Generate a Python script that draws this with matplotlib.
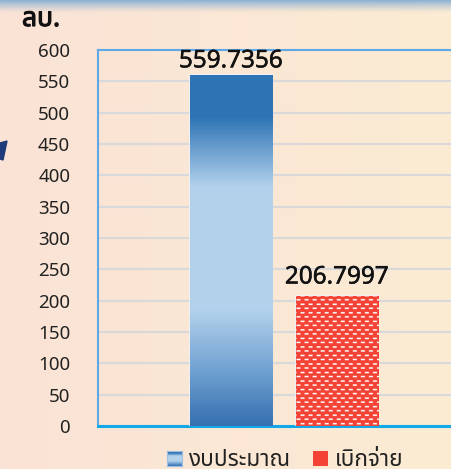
import numpy as np
import matplotlib
matplotlib.use("Agg")
import matplotlib.pyplot as plt
import matplotlib.patheffects as pe
from matplotlib import font_manager
from matplotlib.ft2font import FT2Font
from matplotlib.colors import LinearSegmentedColormap
from matplotlib.patches import Rectangle, Polygon

# data
categories = ["งบประมาณ", "เบิกจ่าย"]
values = [559.7356, 206.7997]
value_labels = ["559.7356", "206.7997"]
yticks = list(range(0, 601, 50))
unit_label = "ลบ."


def thai_font():
    # pick an installed font that can draw Thai
    prefs = ["Noto Sans Thai", "Noto Sans Thai UI", "Loma", "Garuda", "Tlwg Typo",
             "Sarabun", "Noto Sans", "DejaVu Sans"]
    found = {}
    for f in font_manager.fontManager.ttflist:
        try:
            cmap = FT2Font(f.fname).get_charmap()
        except Exception:
            continue
        if ord("ง") in cmap and ord("ณ") in cmap:
            found.setdefault(f.name, f.fname)
    for p in prefs:
        if p in found:
            return p
    if found:
        return sorted(found)[0]
    return "DejaVu Sans"


fam = thai_font()
plt.rcParams["font.family"] = [fam, "DejaVu Sans"]

W, H = 452, 469
fig = plt.figure(figsize=(W / 100, H / 100), dpi=100)

# page background
bg = fig.add_axes([0, 0, 1, 1], zorder=-10)
gx = np.linspace(0, 1, 200)
gy = np.linspace(0, 1, 200)
X, Y = np.meshgrid(gx, gy)
c_left = np.array([250, 227, 214]) / 255
c_right = np.array([252, 236, 211]) / 255
img = c_left[None, None, :] * (1 - X[..., None]) + c_right[None, None, :] * X[..., None]
# blue shadow at the very top
top = np.clip((Y - 0.972) / 0.028, 0, 1)[..., None] ** 1.3
img = img * (1 - top) + np.array([140, 178, 212])[None, None, :] / 255 * top
bg.imshow(img, extent=[0, 1, 0, 1], origin="lower", aspect="auto")
blob = np.array([[0, 143], [7, 141], [3, 160], [0, 159]], dtype=float)
bg.add_patch(Polygon(np.c_[blob[:, 0] / W, 1 - blob[:, 1] / H], closed=True,
                     color="#1F3A7A"))
bg.set_xlim(0, 1)
bg.set_ylim(0, 1)
bg.axis("off")

ax = fig.add_axes([98 / W, 43 / H, 377 / W, 376 / H])
ax.set_facecolor("none")

x = np.arange(len(categories))
width = 0.78
bars = ax.bar(x, values, width=width, color=["#2E74B5", "#F44336"],
              edgecolor="#EDF3FA", linewidth=1.2, zorder=3)

# gradient fill for the budget bar
grad = LinearSegmentedColormap.from_list(
    "g", [(0.0, "#2E74B5"), (0.12, "#2F75B6"), (0.32, "#B4D2EC"),
          (0.67, "#B3D1EB"), (0.85, "#6E9FD0"), (1.0, "#3570B0")])
b0 = bars[0]
im = ax.imshow(np.linspace(0, 1, 256)[:, None], cmap=grad, aspect="auto",
               extent=[b0.get_x(), b0.get_x() + b0.get_width(), 0, b0.get_height()],
               origin="upper", zorder=3.5)
im.set_clip_path(b0)

# brick texture for the disbursed bar (drawn at 2x resolution)
b1 = bars[1]
red = np.array([244, 67, 54]) / 255
tile = np.ones((17, 16, 3)) * red
tile[2:5, 1:9] = 1.0
tile[11:14, 9:16] = 1.0
tile[11:14, 0] = 1.0
hpx = int(round(b1.get_height() * 376 / 600 * 2))
wpx = int(round(b1.get_width() * 106 * 2))
tex = np.tile(tile, (hpx // 17 + 1, wpx // 16 + 1, 1))
tex = tex[tex.shape[0] - hpx:, :wpx]
im2 = ax.imshow(tex, aspect="auto", interpolation="antialiased",
                extent=[b1.get_x(), b1.get_x() + b1.get_width(), 0, b1.get_height()],
                origin="upper", zorder=3.5)
im2.set_clip_path(b1)

medium = [pe.withStroke(linewidth=0.35, foreground="#111111")]
label_gap = [3, 11]
for xi, v, lab, g in zip(x, values, value_labels, label_gap):
    ax.text(xi, v + g, lab, ha="center", va="bottom", fontsize=17.5,
            color="#111111", zorder=5, path_effects=medium)

ax.set_xlim(-1.255, 2.302)
ax.set_ylim(0, 600)
ax.set_yticks(yticks)
ax.set_xticks([])
ax.tick_params(axis="y", length=0, pad=20, labelsize=13.5, labelcolor="#222222")
ax.yaxis.grid(True, color="#D9D9D9", linewidth=1.6, zorder=0)
ax.set_axisbelow(True)
for s in ["left", "top"]:
    ax.spines[s].set_color("#5FA8E8")
    ax.spines[s].set_linewidth(1.5)
ax.spines["right"].set_visible(False)
ax.spines["bottom"].set_color("#13A8E8")
ax.spines["bottom"].set_linewidth(2.2)

fig.text(22 / W, 1 - 26 / H, unit_label, fontsize=19, color="#111111",
         path_effects=[pe.withStroke(linewidth=0.8, foreground="#111111")])

# legend
lx = [167, 313]
tx = [188, 335]
# blue gradient key
kax = fig.add_axes([lx[0] / W, 1 - 466 / H, 15 / W, 15 / H])
kax.imshow(np.linspace(0, 1, 32)[:, None], cmap=grad, aspect="auto",
           extent=[0, 1, 0, 1], origin="upper")
kax.set_xticks([])
kax.set_yticks([])
for s in kax.spines.values():
    s.set_color("#9DBFE3")
    s.set_linewidth(0.8)
fig.patches.append(Rectangle((lx[1] / W, 1 - 466 / H), 15 / W, 15 / H,
                             transform=fig.transFigure, facecolor="#F44336",
                             edgecolor="none", figure=fig))
for i, name in enumerate(categories):
    fig.text(tx[i] / W, 1 - 460 / H, name, fontsize=16.3, color="#222222",
             va="center")

fig.savefig("out.png", dpi=100)
